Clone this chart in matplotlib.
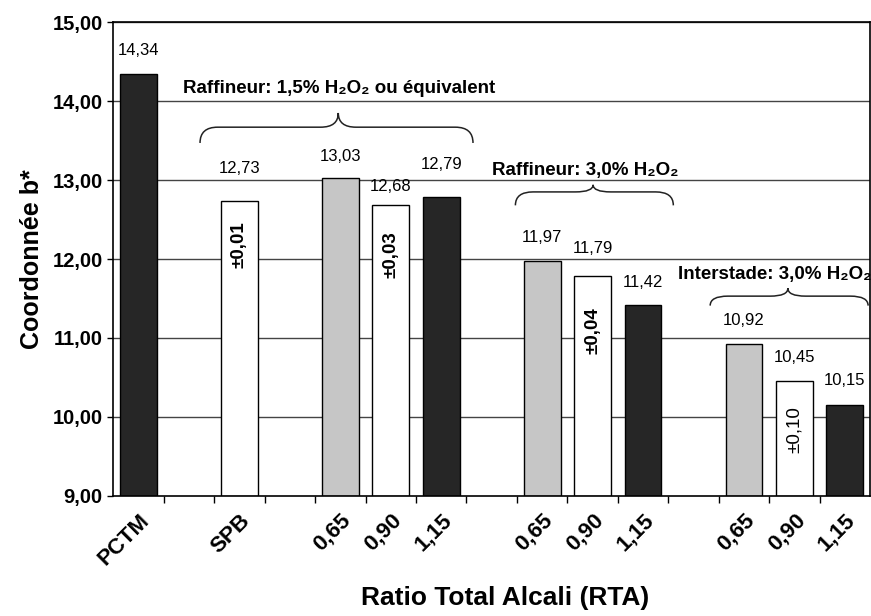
import matplotlib
matplotlib.use("Agg")
import matplotlib.pyplot as plt
from matplotlib.path import Path
from matplotlib.patches import PathPatch
from matplotlib.ticker import FuncFormatter, MultipleLocator

plt.rcParams['font.family'] = ['Liberation Sans', 'DejaVu Sans']

# donnees
etiquettes = ["PCTM", "SPB", "0,65", "0,90", "1,15", "0,65", "0,90", "1,15", "0,65", "0,90", "1,15"]
valeurs = [14.34, 12.73, 13.03, 12.68, 12.79, 11.97, 11.79, 11.42, 10.92, 10.45, 10.15]
groupes = [1, 1, 3, 3, 3]          # nombre de barres par groupe
types = ["noir", "blanc", "gris", "blanc", "noir", "gris", "blanc", "noir", "gris", "blanc", "noir"]
erreurs = {1: "±0,01", 3: "±0,03", 6: "±0,04", 9: "±0,10"}
titres_groupes = ["Raffineur: 1,5% H₂O₂ ou équivalent", "Raffineur: 3,0% H₂O₂", "Interstade: 3,0% H₂O₂"]

couleurs = {"noir": "#262626", "blanc": "white", "gris": "#c6c6c6"}

# positions: un espace vide entre chaque groupe
positions = []
x = 0
for n in groupes:
    for k in range(n):
        positions.append(x)
        x += 1
    x += 1

fig = plt.figure(figsize=(8.71, 6.16), dpi=100)
ax = fig.add_axes([0.13, 0.195, 0.869, 0.769])

for y in range(10, 16):
    ax.axhline(y, color="#444444", lw=1.0, zorder=0)

ax.bar(positions, [v - 9 for v in valeurs], bottom=9, width=0.73,
       color=[couleurs[t] for t in types], edgecolor="black", linewidth=1.0, zorder=2)

# decalage des etiquettes de valeur (en points)
decal = [12, 18, 10, 8, 18, 12, 14, 11, 12, 12, 12]
for i, (p, v) in enumerate(zip(positions, valeurs)):
    ax.annotate(f"{v:.2f}".replace(".", ","), (p, v), xytext=(0, decal[i]),
                textcoords="offset points", ha="center", va="bottom", fontsize=12)

# hauteur du texte d'erreur dans la barre
y_err = {1: 12.18, 3: 12.06, 6: 11.09, 9: 9.84}
for i, txt in erreurs.items():
    poids = "normal" if txt == "±0,10" else "bold"
    ax.text(positions[i], y_err[i], txt, rotation=90,
            ha="center", va="center", fontsize=13.5, fontweight=poids, zorder=3)


def accolade(ax, x0, x1, xm, y_bout, y_mil, y_pointe, r=0.35):
    verts = [(x0, y_bout), (x0, y_mil), (x0 + r, y_mil), (xm - r, y_mil),
             (xm, y_mil), (xm, y_pointe), (xm, y_mil), (xm + r, y_mil),
             (x1 - r, y_mil), (x1, y_mil), (x1, y_bout)]
    codes = [Path.MOVETO, Path.CURVE3, Path.CURVE3, Path.LINETO, Path.CURVE3, Path.CURVE3,
             Path.CURVE3, Path.CURVE3, Path.LINETO, Path.CURVE3, Path.CURVE3]
    ax.add_patch(PathPatch(Path(verts, codes), fill=False, lw=1.1, color="#222222", zorder=4))


accolade(ax, 1.22, 6.63, 3.96, 13.47, 13.67, 13.85)
accolade(ax, 7.47, 10.6, 9.01, 12.68, 12.85, 12.94)
accolade(ax, 11.33, 14.46, 12.87, 11.41, 11.53, 11.63)

ax.text(3.98, 14.16, titres_groupes[0], ha="center", va="center", fontsize=13.5, fontweight="bold")
ax.text(8.85, 13.12, titres_groupes[1], ha="center", va="center", fontsize=13.5, fontweight="bold")
ax.text(12.6, 11.8, titres_groupes[2], ha="center", va="center", fontsize=13.5, fontweight="bold")

ax.set_xlim(-0.5, 14.5)
ax.set_ylim(9, 15)
ax.yaxis.set_major_locator(MultipleLocator(1))
ax.yaxis.set_major_formatter(FuncFormatter(lambda v, p: f"{v:.2f}".replace(".", ",")))
for lab in ax.get_yticklabels():
    lab.set_fontweight("bold")
ax.tick_params(axis="y", labelsize=14.5, length=4, width=1)

ax.set_xticks(positions)
ax.set_xticklabels(etiquettes, rotation=45, ha="right", rotation_mode="anchor",
                   fontsize=16, fontweight="bold")
ax.tick_params(axis="x", which="major", length=0, pad=10)
ax.set_xticks([k + 0.5 for k in range(14)], minor=True)
ax.tick_params(axis="x", which="minor", length=5, width=1, direction="out")

for s in ["left", "top", "right", "bottom"]:
    ax.spines[s].set_color("black")
    ax.spines[s].set_linewidth(1.2)

ax.set_ylabel("Coordonnée b*", fontsize=18, fontweight="bold", labelpad=6)
fig.text(0.58, 0.03, "Ratio Total Alcali (RTA)", ha="center", va="center",
         fontsize=19, fontweight="bold")

fig.savefig("out.png", dpi=100)
